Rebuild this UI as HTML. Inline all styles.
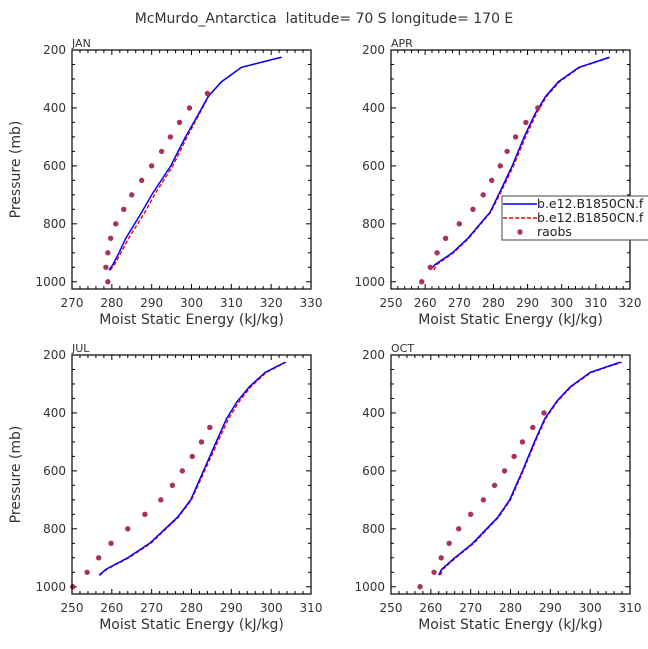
<!DOCTYPE html>
<html><head><meta charset="utf-8"><style>
body{margin:0;background:#fff;}
svg{display:block;font-family:"DejaVu Sans","Liberation Sans",sans-serif;}
text{white-space:pre;}
</style></head><body>
<svg id="fig" width="648" height="649" viewBox="0 0 648 649">
<text x="324" y="23" text-anchor="middle" font-size="14" fill="#333">McMurdo_Antarctica  latitude= 70 S longitude= 170 E</text>
</svg>
<script>
// shared pressure levels
const modelP = [960, 940, 900, 850, 760, 700, 600, 500, 420, 360, 310, 260, 225];
const obsP = [1000, 950, 900, 850, 800, 750, 700, 650, 600, 550, 500, 450, 400, 350];
// JAN
const janBlue = [279.3, 280.3, 281.8, 283.5, 287.5, 290, 294.8, 298.5, 301.8, 304.2, 307.5, 312.5, 322.5];
const janRed  = [279.6, 280.7, 282.3, 284.2, 288.3, 290.7, 295.3, 298.9, 302, 304.3, 307.5, 312.5, 322.7];
const janObs  = [279, 278.5, 279, 279.7, 281, 283, 285, 287.5, 290, 292.5, 294.7, 297, 299.5, 304];
// APR
const aprBlue = [261.5, 263, 268, 272.5, 279, 281.5, 285.5, 289, 292.2, 295.3, 299, 305, 314];
const aprRed  = [262.5, 263.5, 268.3, 272.8, 279.2, 281.8, 285.9, 289.4, 292.6, 295.6, 299.3, 305.3, 314.3];
const aprObs  = [259, 261.5, 263.5, 266, 270, 274, 277, 279.5, 282, 284, 286.5, 289.5, 293, null];
// JUL
const julBlue = [256.8, 258.5, 264, 269.5, 276.5, 279.8, 283, 286.2, 288.8, 291.5, 294.5, 298.5, 303.5];
const julRed  = [257, 258.7, 264.3, 269.8, 276.7, 280, 283.3, 286.6, 289.3, 292, 294.9, 298.8, 303.7];
const julObs  = [250.2, 253.8, 256.7, 259.8, 264, 268.3, 272.3, 275.2, 277.7, 280.2, 282.5, 284.6, null, null];
// OCT
const octBlue = [262, 262.7, 266, 270.5, 276.8, 279.8, 283, 286, 288.6, 291.6, 295, 300, 307.5];
const octRed  = [262.4, 263, 266.3, 270.8, 277, 280, 283.2, 286.2, 288.8, 291.8, 295.2, 300.3, 308];
const octObs  = [257.3, 260.8, 262.6, 264.6, 267, 270, 273.2, 276, 278.5, 280.9, 283, 285.6, 288.4, null];
// axis ticks
const yTicks = [200, 400, 600, 800, 1000];
const janX = [270, 280, 290, 300, 310, 320, 330];
const aprX = [250, 260, 270, 280, 290, 300, 310, 320];
const julX = [250, 260, 270, 280, 290, 300, 310];
const octX = [250, 260, 270, 280, 290, 300, 310];
const legendLabels = ["b.e12.B1850CN.f", "b.e12.B1850CN.f", "raobs"];

const NS = "http://www.w3.org/2000/svg";
const svg = document.getElementById("fig");
function mk(tag, attrs, parent) {
  const e = document.createElementNS(NS, tag);
  for (const k in attrs) e.setAttribute(k, attrs[k]);
  (parent || svg).appendChild(e);
  return e;
}
function panel(name, x0, y0, xt, blue, red, obs, showY) {
  const w = 239, h = 239, pMin = 200, pMax = 1025;
  const xMin = xt[0], xMax = xt[xt.length - 1];
  const sx = v => x0 + (v - xMin) / (xMax - xMin) * w;
  const sy = p => y0 + (p - pMin) / (pMax - pMin) * h;
  const g = mk("g", {});
  
  
  for (let v = xMin; v <= xMax + 0.01; v += 2) {
    const major = Math.abs((v - xMin) % 10) < 0.01;
    const L = major ? 5 : 3;
    mk("line", {x1: sx(v), x2: sx(v), y1: y0 + h, y2: y0 + h - L, stroke: "#000", "stroke-width": 1}, g);
    mk("line", {x1: sx(v), x2: sx(v), y1: y0, y2: y0 + L, stroke: "#000", "stroke-width": 1}, g);
  }
  for (let p = 200; p <= 1000; p += 50) {
    const major = p % 200 === 0;
    const L = major ? 5 : 3;
    mk("line", {x1: x0, x2: x0 + L, y1: sy(p), y2: sy(p), stroke: "#000", "stroke-width": 1}, g);
    mk("line", {x1: x0 + w, x2: x0 + w - L, y1: sy(p), y2: sy(p), stroke: "#000", "stroke-width": 1}, g);
  }
  xt.forEach(v => {
    const t = mk("text", {x: sx(v), y: y0 + h + 18, "text-anchor": "middle", "font-size": 12, fill: "#333"}, g);
    t.textContent = v;
    
    
  });
  yTicks.forEach(p => {
    const t = mk("text", {x: x0 - 6, y: sy(p) + 4, "text-anchor": "end", "font-size": 12, fill: "#333"}, g);
    t.textContent = p;
    
    
  });
  const xtl = mk("text", {x: x0 + w / 2, y: y0 + h + 35, "text-anchor": "middle", "font-size": 14, fill: "#333"}, g);
  xtl.textContent = "Moist Static Energy (kJ/kg)";
  
  
  if (showY) {
    const yt = mk("text", {x: 0, y: 0, "text-anchor": "middle", "font-size": 14, fill: "#333",
      transform: `translate(20,${y0 + h / 2}) rotate(-90)`}, g);
    yt.textContent = "Pressure (mb)";
    
    
  }
  const lab = mk("text", {x: x0, y: y0 - 3, "font-size": 11, fill: "#333"}, g);
  lab.textContent = name;
  
  
  const rl = mk("polyline", {points: red.map((v, i) => sx(v) + "," + sy(modelP[i])).join(" "),
    fill: "none", stroke: "#f00", "stroke-width": 1.4, "stroke-dasharray": "4,2"}, g);
  
  
  const bl = mk("polyline", {points: blue.map((v, i) => sx(v) + "," + sy(modelP[i])).join(" "),
    fill: "none", stroke: "#00f", "stroke-width": 1.5}, g);
  
  
  obs.forEach((v, i) => {
    if (v === null) return;
    const c = mk("circle", {cx: sx(v), cy: sy(obsP[i]), r: 2.7, fill: "#a8325e"}, g);
    
    
  });
  const fr = mk("rect", {x: x0, y: y0, width: w, height: h, fill: "none", stroke: "#000", "stroke-width": 1.2}, g);
  
  
}
panel("JAN", 72, 50, janX, janBlue, janRed, janObs, true);
panel("APR", 391, 50, aprX, aprBlue, aprRed, aprObs, false);
panel("JUL", 72, 355, julX, julBlue, julRed, julObs, true);
panel("OCT", 391, 355, octX, octBlue, octRed, octObs, false);

const lg = mk("g", {});


mk("rect", {x: 502, y: 196, width: 150, height: 44, fill: "#fff", stroke: "#444", "stroke-width": 1}, lg);
mk("line", {x1: 503, x2: 537, y1: 204, y2: 204, stroke: "#00f", "stroke-width": 1.5}, lg);
mk("line", {x1: 503, x2: 537, y1: 218, y2: 218, stroke: "#f00", "stroke-width": 1.4, "stroke-dasharray": "4,2"}, lg);
mk("circle", {cx: 520, cy: 232, r: 2.7, fill: "#a8325e"}, lg);
legendLabels.forEach((s, i) => {
  const t = mk("text", {x: 537, y: 208 + i * 14, "font-size": 12.5, fill: "#222"}, lg);
  t.textContent = s;
  
  
});
</script>
</body></html>
